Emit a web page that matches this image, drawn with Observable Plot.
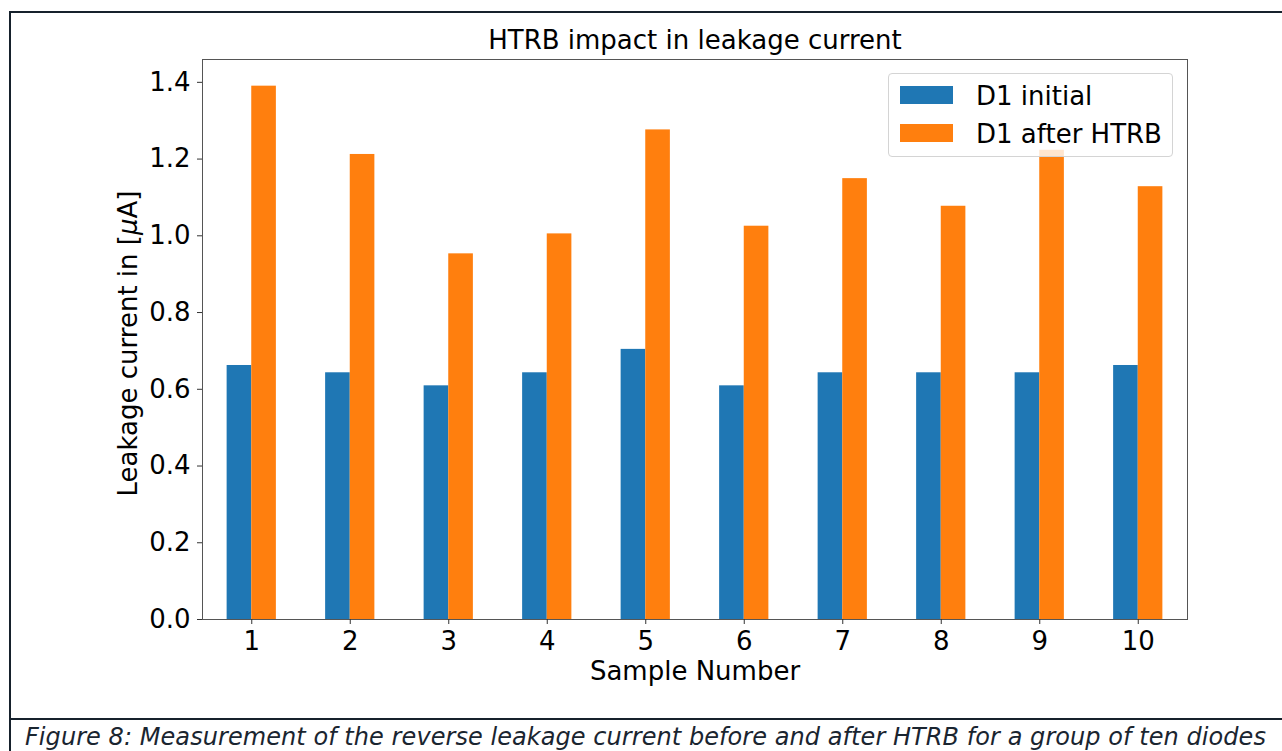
<!DOCTYPE html>
<html><head><meta charset="utf-8">
<script src="https://cdn.jsdelivr.net/npm/d3@7"></script>
<script src="https://cdn.jsdelivr.net/npm/@observablehq/plot@0.6"></script>
<style>
body{margin:0;background:#fff;}
#page{position:relative;width:1282px;height:751px;overflow:hidden;font-family:"DejaVu Sans";background:#fff;}
#box{position:absolute;left:9px;top:11px;width:1300px;height:800px;border-left:2px solid #16212c;border-top:2px solid #16212c;}
#sep{position:absolute;left:9px;top:718px;width:1300px;height:2px;background:#16212c;}
#chart{position:absolute;left:0;top:0;}
#legend{position:absolute;left:888px;top:73px;width:285px;height:84px;box-sizing:border-box;border:1px solid #d4d4d4;border-radius:4px;background:rgba(255,255,255,0.8);}
.sw{position:absolute;left:11px;width:53px;height:18px;}
.lt{position:absolute;left:87px;font-size:26px;line-height:26px;white-space:nowrap;color:#000;}
#caption{position:absolute;left:25px;top:725px;font-style:italic;font-size:24px;line-height:24px;color:#1a2530;white-space:nowrap;}
</style>
</head><body>
<div id="page">
  <div id="box"></div>
  <div id="sep"></div>
  <div id="chart"></div>
  <div id="legend"></div>
  <div id="caption"></div>
</div>
<script>
const samples = [1, 2, 3, 4, 5, 6, 7, 8, 9, 10];
const initial = [0.662, 0.643, 0.609, 0.643, 0.704, 0.609, 0.643, 0.643, 0.643, 0.662];
const afterHTRB = [1.390, 1.212, 0.953, 1.005, 1.276, 1.025, 1.149, 1.077, 1.223, 1.128];
const yTicks = [0, 0.2, 0.4, 0.6, 0.8, 1.0, 1.2, 1.4];
const seriesNames = ["D1 initial", "D1 after HTRB"];
const colors = ["#1f77b4", "#ff7f0e"];
const titleText = "HTRB impact in leakage current";
const xLabel = "Sample Number";
const yLabel = "Leakage current in [μA]";
const captionText = "Figure 8: Measurement of the reverse leakage current before and after HTRB for a group of ten diodes";

const rows = samples.map((s, i) => ({sample: s, initial: initial[i], after: afterHTRB[i]}));
const yMax = d3.max(afterHTRB) * 1.05;
const barW = 0.25;

const chart = Plot.plot({
  width: 1282, height: 719,
  marginLeft: 202, marginRight: 95, marginTop: 59, marginBottom: 100,
  style: {fontFamily: "DejaVu Sans", fontSize: "26px", color: "#000", background: "transparent", overflow: "visible"},
  x: {type: "linear", domain: [0.5, 10.5]},
  y: {domain: [0, yMax]},
  marks: [
    Plot.rectY(rows, {x1: d => d.sample - barW, x2: d => d.sample, y1: 0, y2: "initial", fill: colors[0]}),
    Plot.rectY(rows, {x1: d => d.sample, x2: d => d.sample + barW, y1: 0, y2: "after", fill: colors[1]}),
    Plot.frame({stroke: "#555"}),
    Plot.axisX({ticks: samples, tickFormat: d => String(d), tickSize: 5, tickPadding: 7, label: null, fontSize: 26, stroke: "#333"}),
    Plot.axisY({ticks: yTicks, tickFormat: d => d.toFixed(1), tickSize: 5, tickPadding: 7, label: null, fontSize: 26, stroke: "#333"}),
    Plot.text([titleText], {text: d => d, frameAnchor: "top", lineAnchor: "bottom", dy: -11, fontSize: 26}),
    Plot.text([xLabel], {text: d => d, frameAnchor: "bottom", lineAnchor: "bottom", dy: 60, fontSize: 26}),
    Plot.text([yLabel], {text: d => d, frameAnchor: "left", textAnchor: "middle", lineAnchor: "top", rotate: -90, dx: -84, dy: 4, fontSize: 26})
  ]
});

d3.select(chart).selectAll("text").filter(function() { return this.textContent === yLabel; }).each(function() {
  const t = d3.select(this);
  t.text(null);
  t.append("tspan").text("Leakage current in [");
  t.append("tspan").attr("font-style", "italic").text("μ");
  t.append("tspan").text("A]");
});

document.getElementById("chart").appendChild(chart);

const legend = d3.select("#legend");
seriesNames.forEach((name, i) => {
  legend.append("div").attr("class", "sw").style("top", (12 + i * 37.5) + "px").style("background", colors[i]);
  legend.append("div").attr("class", "lt").style("top", (9.3 + i * 37.4) + "px").text(name);
});
const cap = document.getElementById("caption");
cap.textContent = captionText;
const capTarget = 1241;
const w0 = cap.getBoundingClientRect().width;
cap.style.letterSpacing = ((capTarget - w0) / captionText.length) + "px";
</script>
</body></html>
